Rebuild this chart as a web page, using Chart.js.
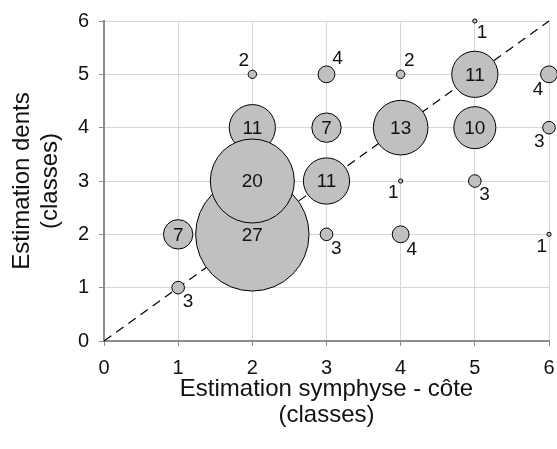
<!DOCTYPE html>
<html lang="fr">
<head>
<meta charset="UTF-8">
<title>Estimation dents vs symphyse - côte</title>
<script src="https://cdn.jsdelivr.net/npm/chart.js@4/dist/chart.umd.min.js"></script>
<style>
  body { margin: 0; background: #fff; }
  canvas { display: block; }
</style>
</head>
<body>
<canvas id="myChart" width="557" height="449"></canvas>
<script>
// classes estimated from symphysis/rib (x) and teeth (y), number of individuals per cell
const xClass = [1, 1, 2, 2, 2, 2, 3, 3, 3, 3, 4, 4, 4, 4, 5, 5, 5, 5, 6, 6, 6];
const yClass = [1, 2, 5, 4, 2, 3, 2, 3, 4, 5, 2, 3, 4, 5, 3, 4, 5, 6, 2, 4, 5];
const counts = [3, 7, 2, 11, 27, 20, 3, 11, 7, 4, 4, 1, 13, 2, 3, 10, 11, 1, 1, 3, 4];
const axisTicks = [0, 1, 2, 3, 4, 5, 6];

// where each count label goes: c = inside, otherwise compass corner
const labelSpot = ['se', 'c', 'nw', 'c', 'c', 'c', 'se', 'c', 'c', 'ne', 'se', 'sw', 'c', 'ne', 'se', 'c', 'c', 'se', 'sw', 'sw', 'sw'];

const FONT = '"Liberation Sans", Arial, sans-serif';
const radiusPerUnit = 2.1;

const bubbleData = counts.map((n, i) => ({ x: xClass[i], y: yClass[i], r: n * radiusPerUnit }));

const countLabels = {
  id: 'countLabels',
  afterDatasetsDraw(chart) {
    const meta = chart.getDatasetMeta(1);
    const ctx = chart.ctx;
    ctx.save();
    ctx.fillStyle = '#111';
    ctx.font = '19px ' + FONT;
    ctx.textAlign = 'center';
    ctx.textBaseline = 'middle';
    meta.data.forEach((pt, i) => {
      const r = bubbleData[i].r;
      const spot = labelSpot[i];
      let dx = 0, dy = 1;
      if (spot !== 'c') {
        const hx = r * 0.6 + 6, vy = r * 0.5 + 11;
        dx = spot.includes('e') ? hx : -hx;
        dy = spot.includes('s') ? vy : -vy;
      }
      ctx.fillText(String(counts[i]), pt.x + dx, pt.y + dy);
    });
    ctx.restore();
  }
};

const gridGray = '#d6d6d6';
const axisGray = '#8c8c8c';

new Chart(document.getElementById('myChart'), {
  data: {
    datasets: [{
      type: 'line',
      data: [{ x: 0, y: 0 }, { x: 6, y: 6 }],
      borderColor: '#000',
      borderWidth: 1.2,
      borderDash: [9, 6],
      pointRadius: 0,
      order: 2,
      clip: false
    }, {
      type: 'bubble',
      data: bubbleData,
      backgroundColor: '#c0c0c0',
      borderColor: '#000',
      borderWidth: 1,
      hoverRadius: 0,
      order: 1,
      clip: false
    }]
  },
  options: {
    responsive: false,
    animation: false,
    layout: { autoPadding: false, padding: { left: 0, right: 8, top: 21, bottom: 0 } },
    plugins: { legend: { display: false }, tooltip: { enabled: false } },
    scales: {
      x: {
        type: 'linear',
        min: 0, max: 6,
        afterFit: s => { s.height = 108; s.paddingLeft = 0; s.paddingRight = 0; },
        afterBuildTicks: s => { s.ticks = axisTicks.map(v => ({ value: v })); },
        grid: { color: gridGray, tickColor: axisGray, tickLength: 5 },
        border: { color: axisGray, width: 2 },
        ticks: { color: '#111', font: { family: FONT, size: 20 }, padding: 10, maxRotation: 0 },
        title: {
          display: true,
          text: ['Estimation symphyse - côte', '(classes)'],
          color: '#111',
          font: { family: FONT, size: 24, lineHeight: 1.1 },
          padding: { top: 0, bottom: 20 }
        }
      },
      y: {
        type: 'linear',
        min: 0, max: 6,
        afterFit: s => { s.width = 104; s.paddingTop = 0; s.paddingBottom = 0; },
        afterBuildTicks: s => { s.ticks = axisTicks.map(v => ({ value: v })); },
        grid: { color: gridGray, tickColor: axisGray, tickLength: 5 },
        border: { color: axisGray, width: 2 },
        ticks: { color: '#111', font: { family: FONT, size: 20 }, padding: 10 },
        title: {
          display: true,
          text: ['Estimation dents', '(classes)'],
          color: '#111',
          font: { family: FONT, size: 24, lineHeight: 1.15 },
          padding: { top: 9, bottom: 0 }
        }
      }
    }
  },
  plugins: [countLabels]
});
</script>
</body>
</html>
